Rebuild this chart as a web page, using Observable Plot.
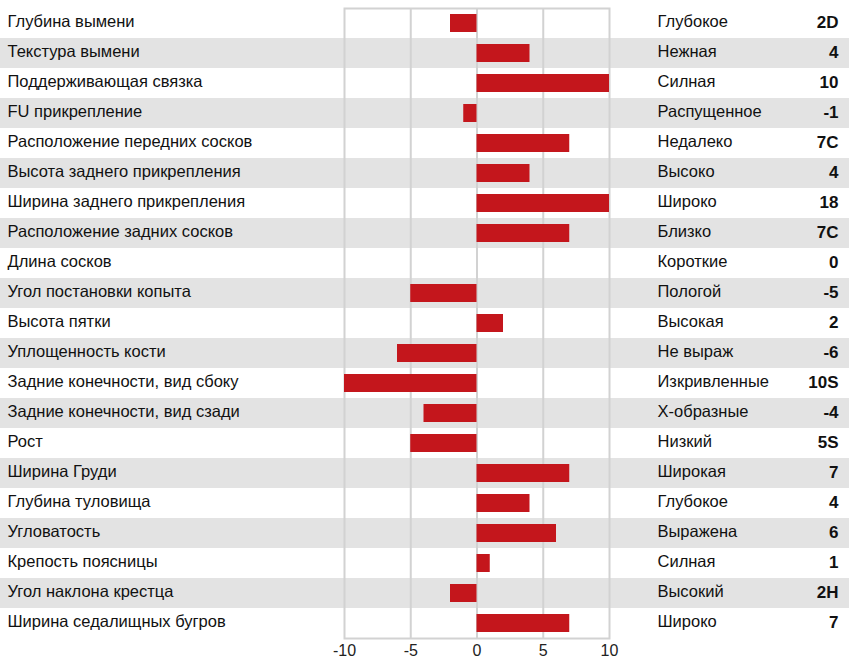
<!DOCTYPE html>
<html>
<head>
<meta charset="utf-8">
<script src="https://cdn.jsdelivr.net/npm/d3@7"></script>
<script src="https://cdn.jsdelivr.net/npm/@observablehq/plot@0.6"></script>
<style>
  html, body { margin: 0; padding: 0; background: #fff; }
  #chart svg { display: block; }
</style>
</head>
<body>
<div id="chart"></div>
<script>
const traits = [
  "Глубина вымени",
  "Текстура вымени",
  "Поддерживающая связка",
  "FU прикрепление",
  "Расположение передних сосков",
  "Высота заднего прикрепления",
  "Ширина заднего прикрепления",
  "Расположение задних сосков",
  "Длина сосков",
  "Угол постановки копыта",
  "Высота пятки",
  "Уплощенность кости",
  "Задние конечности, вид сбоку",
  "Задние конечности, вид сзади",
  "Рост",
  "Ширина Груди",
  "Глубина туловища",
  "Угловатость",
  "Крепость поясницы",
  "Угол наклона крестца",
  "Ширина седалищных бугров"
];
const barValues = [-2, 4, 10, -1, 7, 4, 10, 7, 0, -5, 2, -6, -10, -4, -5, 7, 4, 6, 1, -2, 7];
const descriptions = [
  "Глубокое", "Нежная", "Силная", "Распущенное", "Недалеко", "Высоко", "Широко",
  "Близко", "Короткие", "Пологой", "Высокая", "Не выраж", "Изкривленные",
  "Х-образные", "Низкий", "Широкая", "Глубокое", "Выражена", "Силная", "Высокий", "Широко"
];
const valueLabels = ["2D", "4", "10", "-1", "7C", "4", "18", "7C", "0", "-5", "2", "-6", "10S", "-4", "5S", "7", "4", "6", "1", "2H", "7"];
const xTicks = [-10, -5, 0, 5, 10];

const rows = traits.map((name, i) => ({
  name, value: barValues[i], desc: descriptions[i], label: valueLabels[i], i
}));
const stripes = rows.filter(d => d.i % 2 === 1);

const font = "'Liberation Sans', Arial, sans-serif";

const chart = Plot.plot({
  width: 857,
  height: 661,
  marginLeft: 344,
  marginRight: 248,
  marginTop: 8,
  marginBottom: 23,
  style: { fontFamily: font, background: "#fff" },
  x: { domain: [-10, 10] },
  y: { domain: traits, padding: 0, axis: null },
  marks: [
    Plot.cell(stripes, { y: "name", fill: "#e3e3e3", insetLeft: -344, insetRight: -240 }),
    Plot.ruleX([-5, 0, 5], { stroke: "#d2d2d2", strokeWidth: 2 }),
    Plot.frame({ stroke: "#d2d2d2", strokeWidth: 2 }),
    Plot.barX(rows, { y: "name", x1: 0, x2: "value", fill: "#c4161c", insetTop: 6, insetBottom: 6 }),
    Plot.axisX(xTicks, { tickSize: 0, tickPadding: 6, fontSize: 16, fill: "#222", label: null, tickFormat: d => String(d) }),
    Plot.text(rows, { y: "name", text: "name", frameAnchor: "left", dx: -337, dy: -2, textAnchor: "start", fontSize: 16.5, fill: "#111" }),
    Plot.text(rows, { y: "name", text: "desc", frameAnchor: "right", dx: 48, dy: -2, textAnchor: "start", fontSize: 16.5, fill: "#111" }),
    Plot.text(rows, { y: "name", text: "label", frameAnchor: "right", dx: 229, dy: -1, textAnchor: "end", fontSize: 17, fontWeight: "bold", fill: "#111" })
  ]
});
document.getElementById("chart").appendChild(chart);
</script>
</body>
</html>
